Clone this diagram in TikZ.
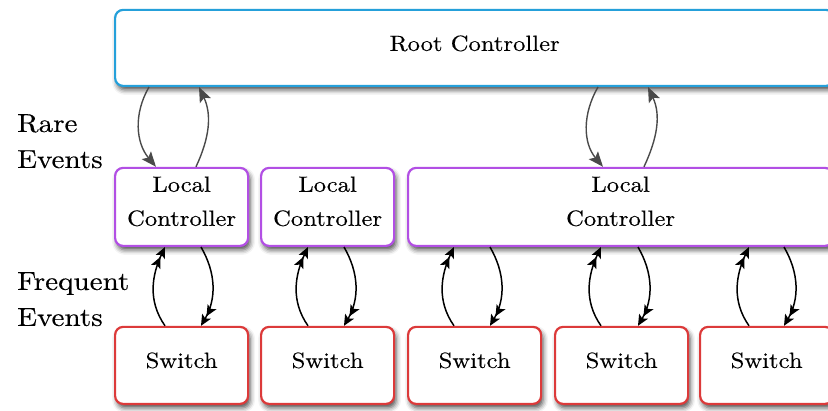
\documentclass[tikz,border=0pt]{standalone}
\usepackage{fontspec}
\setmainfont{lmroman10-regular.otf}[FakeStretch=1.12, FakeBold=0.3]
\usetikzlibrary{arrows.meta,shadows.blur,calc}

\definecolor{rootblue}{HTML}{25A0DA}
\definecolor{localpurple}{HTML}{B24FE4}
\definecolor{switchred}{HTML}{DC3A3A}
\definecolor{rarearrow}{HTML}{4A4A4A}

\tikzset{
  box/.style={draw, fill=white, line width=2.2pt, rounded corners=8pt,
    anchor=south west, inner sep=0pt,
    blur shadow={shadow xshift=2pt, shadow yshift=-4pt,
      shadow blur radius=5pt, shadow opacity=70}},
  rootbox/.style={box, draw=rootblue, minimum width=719pt, minimum height=76pt},
  localbox/.style={box, draw=localpurple, minimum height=78pt},
  switchbox/.style={box, draw=switchred, minimum width=133pt, minimum height=77pt},
  boxtext/.style={font=\fontsize{22}{34}\selectfont, inner sep=0pt, align=center},
  sidetext/.style={font=\fontsize{26}{36}\selectfont, inner sep=0pt,
    align=left, anchor=north west},
  rarelink/.style={draw=rarearrow, line width=1.4pt,
    -{Stealth[length=15pt,width=12pt,inset=3pt]}},
  freqlink/.style={draw=black, line width=1.5pt,
    -{Stealth[length=11pt,width=10pt,inset=2.5pt]Stealth[length=11pt,width=10pt,inset=2.5pt]}},
}

\begin{document}
\begin{tikzpicture}[x=1pt, y=1pt]
\useasboundingbox (0,0) rectangle (828,410);

% controller hierarchy
\node[rootbox] (root) at (114,323) {};
\node[boxtext, anchor=base] (roott) at ([yshift=-3pt]root.center) {Root Controller};

\node[localbox, minimum width=133pt] (lc1) at (114,163) {};
\node[localbox, minimum width=133pt] (lc2) at (260,163) {};
\node[localbox, minimum width=425pt] (lc3) at (407,163) {};
\foreach \l in {lc1,lc2,lc3}
  \node[boxtext] (\l t) at ([yshift=5.5pt]\l.center) {Local\\Controller};

% switches
\foreach \s/\x in {sw1/114, sw2/260, sw3/407, sw4/554, sw5/699} {
  \node[switchbox] (\s) at (\x,5) {};
  \node[boxtext, anchor=base] (\s t) at ([yshift=-2.5pt]\s.center) {Switch};
}

% side labels
\node[sidetext] (rare) at (17,296) {Rare\\Events};
\node[sidetext] (freq) at (17,138) {Frequent\\Events};

% rare events: root <-> local controllers
\draw[rarelink] ([xshift=35pt]root.south west) to[out=-120,in=130] ([xshift=42pt]lc1.north west);
\draw[rarelink] ([xshift=82pt]lc1.north west) to[out=65,in=-65] ([xshift=85pt]root.south west);
\draw[rarelink] ([xshift=484pt]root.south west) to[out=-120,in=130] ([xshift=196pt]lc3.north west);
\draw[rarelink] ([xshift=237pt]lc3.north west) to[out=65,in=-65] ([xshift=534pt]root.south west);

% frequent events: local controllers <-> switches
\foreach \s/\l/\a/\b in {sw1/lc1/51/87, sw2/lc2/48/84, sw3/lc3/47/83, sw4/lc3/47/84, sw5/lc3/50/85} {
  \coordinate (\s-u) at ([xshift=\a pt]\s.north west);
  \coordinate (\s-d) at ([xshift=\b pt]\s.north west);
  \draw[freqlink] (\s-u) to[out=125,in=-115] (\s-u |- \l.south);
  \draw[freqlink] (\s-d |- \l.south) to[out=-60,in=60] (\s-d);
}
\end{tikzpicture}
\end{document}
